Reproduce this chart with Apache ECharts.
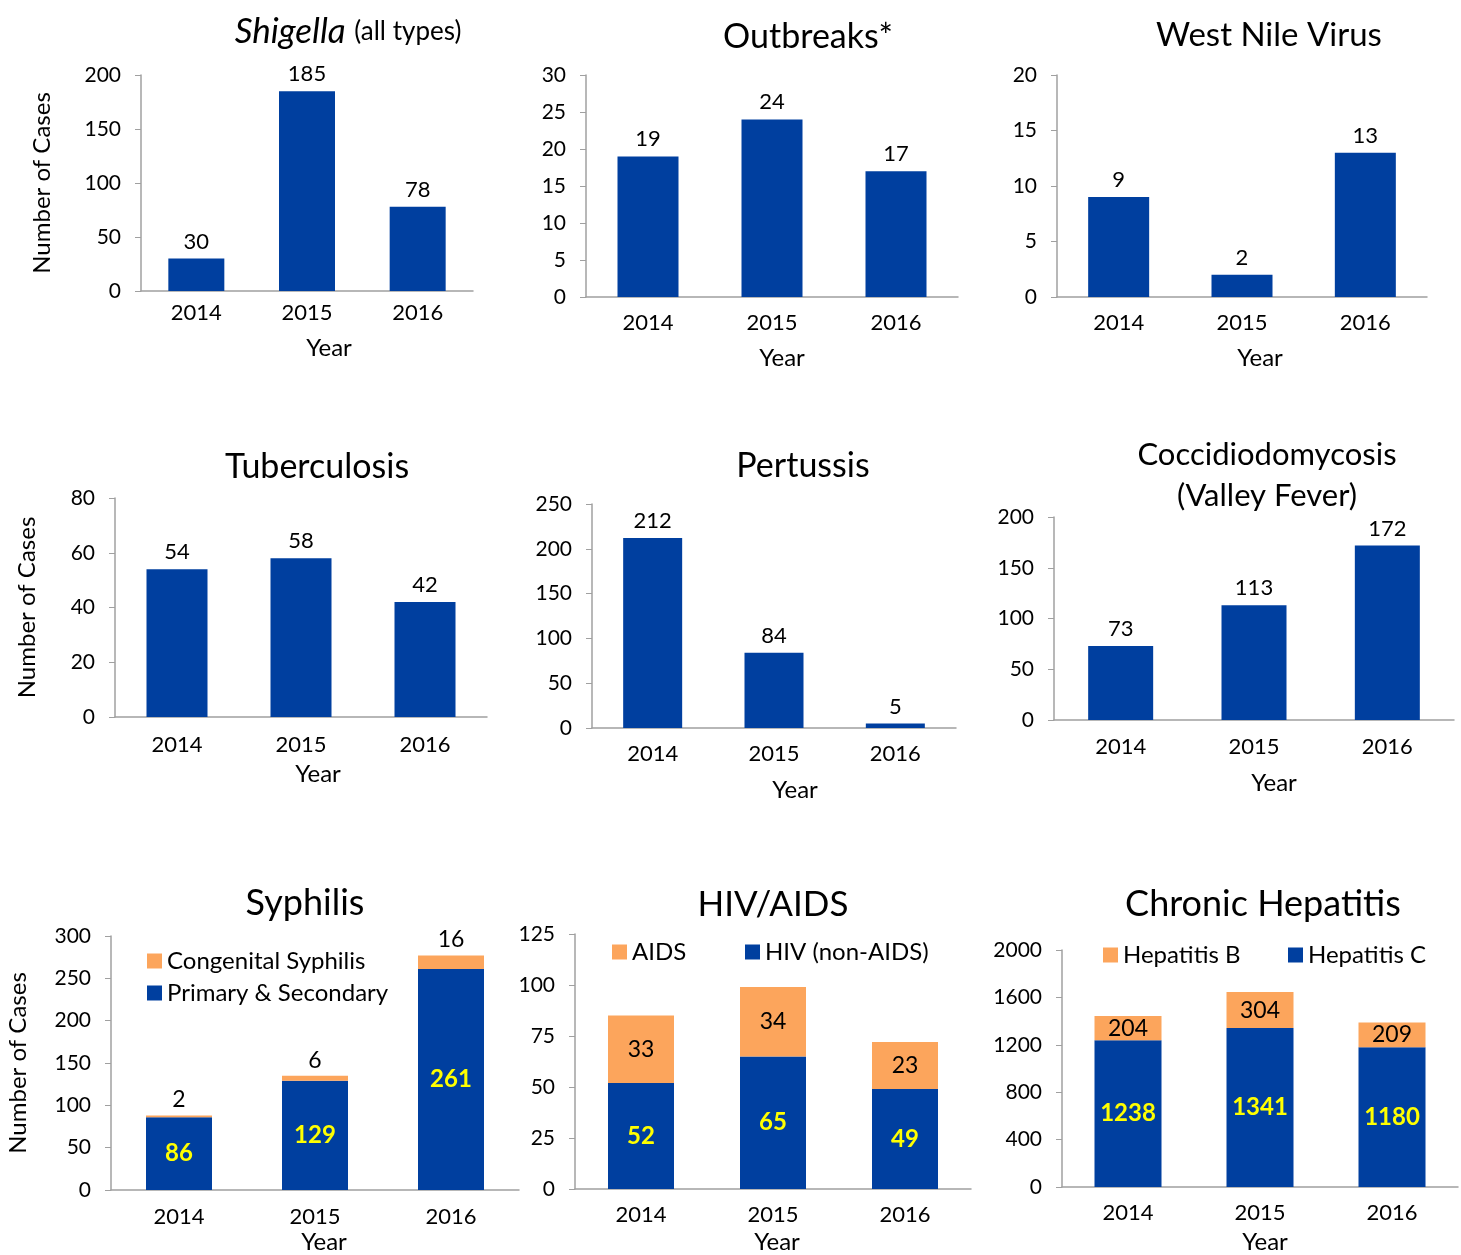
<!DOCTYPE html>
<html>
<head>
<meta charset="utf-8">
<title>Reportable diseases 2014-2016</title>
<script src="https://cdn.jsdelivr.net/npm/echarts@6/dist/echarts.min.js"></script>
<style>
  html, body { margin: 0; padding: 0; background: #fff; }
  #main { width: 1461px; height: 1255px; }
</style>
</head>
<body>
<div id="main"></div>
<script>
// data
var years = ['2014', '2015', '2016'];
var shigella = [30, 185, 78];
var outbreaks = [19, 24, 17];
var westNile = [9, 2, 13];
var tuberculosis = [54, 58, 42];
var pertussis = [212, 84, 5];
var cocci = [73, 113, 172];
var syphPrimary = [86, 129, 261];
var syphCongenital = [2, 6, 16];
var hivNonAids = [52, 65, 49];
var aids = [33, 34, 23];
var hepC = [1238, 1341, 1180];
var hepB = [204, 304, 209];

var BLUE = '#003f9f', ORANGE = '#fca55c', AXIS = '#a0a0a0';
var FONT = 'Lato';

var grids = [], xAxes = [], yAxes = [], series = [], titles = [], legends = [];

// one panel = one grid + its axes
function panel(box, max, interval, opt) {
    var i = grids.length;
    grids.push({ left: box[0], top: box[1], width: box[2], height: box[3], containLabel: false });
    xAxes.push({
        type: 'category', gridIndex: i, data: years,
        axisLine: { lineStyle: { color: AXIS, width: 1.5 } },
        axisTick: { show: false },
        axisLabel: { color: '#000', fontSize: 22, fontFamily: FONT, margin: opt.xMargin },
        name: 'Year', nameLocation: 'middle', nameGap: opt.yearGap,
        // excel puts the axis title a bit right of centre
        nameTextStyle: { color: '#000', fontSize: 24, fontFamily: FONT, padding: [0, 0, 0, 2 * (opt.yearShift || 0)] }
    });
    var y = {
        type: 'value', gridIndex: i, min: 0, max: max, interval: interval,
        splitLine: { show: false },
        axisLine: { show: true, lineStyle: { color: AXIS, width: 1.5 } },
        axisTick: { show: true, length: 6, lineStyle: { color: AXIS } },
        axisLabel: {
            color: '#000', fontSize: 21, fontFamily: FONT, margin: 20,
            formatter: function (v) { return String(v); }
        }
    };
    if (opt.yName) {
        y.name = 'Number of Cases';
        y.nameLocation = 'middle';
        y.nameRotate = 90;
        y.nameGap = opt.yName;
        y.nameTextStyle = { color: '#000', fontSize: 24, fontFamily: FONT };
    }
    yAxes.push(y);
    return i;
}

function simpleBar(i, name, data, bw) {
    series.push({
        name: name, type: 'bar', xAxisIndex: i, yAxisIndex: i, data: data,
        barWidth: bw, itemStyle: { color: BLUE },
        label: { show: true, position: 'top', distance: 6, color: '#000', fontSize: 22, fontFamily: FONT }
    });
}

function stackBar(i, blueName, blueData, orName, orData, orLabelPos, bw) {
    series.push({
        name: blueName, type: 'bar', stack: 's' + i, xAxisIndex: i, yAxisIndex: i, data: blueData,
        barWidth: bw, itemStyle: { color: BLUE },
        label: { show: true, position: 'inside', color: '#ffff00', fontWeight: 'bold', fontSize: 24, fontFamily: FONT }
    });
    series.push({
        name: orName, type: 'bar', stack: 's' + i, xAxisIndex: i, yAxisIndex: i, data: orData,
        barWidth: bw, itemStyle: { color: ORANGE },
        label: { show: true, position: orLabelPos, distance: 4, color: '#000', fontSize: 23, fontFamily: FONT }
    });
}

function title(text, x, y, size, lh, rich) {
    var t = {
        text: text, left: x, top: y, textAlign: 'center',
        textStyle: { color: '#000', fontSize: size, fontWeight: 'normal', fontFamily: FONT, lineHeight: lh }
    };
    if (rich) t.textStyle.rich = rich;
    titles.push(t);
}

function legend(names, x, y, orient) {
    legends.push({
        data: names, left: x, top: y, orient: orient || 'horizontal', itemGap: 8,
        icon: 'rect', itemWidth: 15, itemHeight: 15,
        textStyle: { color: '#000', fontSize: 24, fontFamily: FONT }
    });
}

// row 1
var p = panel([141, 75, 332, 216], 200, 50, { xMargin: 11, yearGap: 45, yName: 87, yearShift: 22 });
simpleBar(p, 'Shigella', shigella, 56);
title('{i|Shigella} {n|(all types)}', 343, 3, 34, 48, {
    i: { fontSize: 35, fontStyle: 'italic', fontFamily: FONT, color: '#000', lineHeight: 48 },
    n: { fontSize: 26, fontFamily: FONT, color: '#000', lineHeight: 48 }
});

p = panel([586, 75, 372, 222], 30, 5, { xMargin: 15, yearGap: 49, yearShift: 10 });
simpleBar(p, 'Outbreaks', outbreaks, 61);
title('Outbreaks*', 803, 8, 34, 48);

p = panel([1057, 75, 370, 222], 20, 5, { xMargin: 15, yearGap: 49, yearShift: 18 });
simpleBar(p, 'West Nile Virus', westNile, 61);
title('West Nile Virus', 1264, 6, 33, 48);

// row 2
p = panel([115, 498, 372, 219], 80, 20, { xMargin: 17, yearGap: 45, yName: 76, yearShift: 17 });
simpleBar(p, 'Tuberculosis', tuberculosis, 61);
title('Tuberculosis', 312, 438, 34, 48);

p = panel([592, 504, 364, 224], 250, 50, { xMargin: 15, yearGap: 50, yearShift: 21 });
simpleBar(p, 'Pertussis', pertussis, 59);
title('Pertussis', 798, 437, 34, 48);

p = panel([1054, 517, 400, 203], 200, 50, { xMargin: 16, yearGap: 51, yearShift: 20 });
simpleBar(p, 'Coccidiodomycosis', cocci, 65);
title('Coccidiodomycosis\n(Valley Fever)', 1262, 429, 31, 41);

// row 3
p = panel([111, 936, 408, 257], 300, 50, { xMargin: 16, yearGap: 40, yName: 81, yearShift: 9 });
stackBar(p, 'Primary & Secondary', syphPrimary, 'Congenital Syphilis', syphCongenital, 'top', 66);
title('Syphilis', 300, 872, 36, 52);
legend(['Congenital Syphilis', 'Primary & Secondary'], 142, 944, 'vertical');

p = panel([575, 934, 396, 258], 125, 25, { xMargin: 15, yearGap: 41, yearShift: 4 });
stackBar(p, 'HIV (non-AIDS)', hivNonAids, 'AIDS', aids, 'inside', 66);
title('HIV/AIDS', 768, 874, 35, 52);
legend(['AIDS'], 607, 935);
legend(['HIV (non-AIDS)'], 740, 935);

p = panel([1062, 950, 396, 240], 2000, 400, { xMargin: 15, yearGap: 43, yearShift: 5 });
stackBar(p, 'Hepatitis C', hepC, 'Hepatitis B', hepB, 'inside', 67);
title('Chronic Hepatitis', 1258, 873, 36, 52);
legend(['Hepatitis B'], 1098, 938);
legend(['Hepatitis C'], 1283, 938);

var chart = echarts.init(document.getElementById('main'), null, { renderer: 'canvas' });
chart.setOption({
    backgroundColor: '#fff',
    animation: false,
    title: titles,
    legend: legends,
    grid: grids,
    xAxis: xAxes,
    yAxis: yAxes,
    series: series
});
</script>
</body>
</html>
